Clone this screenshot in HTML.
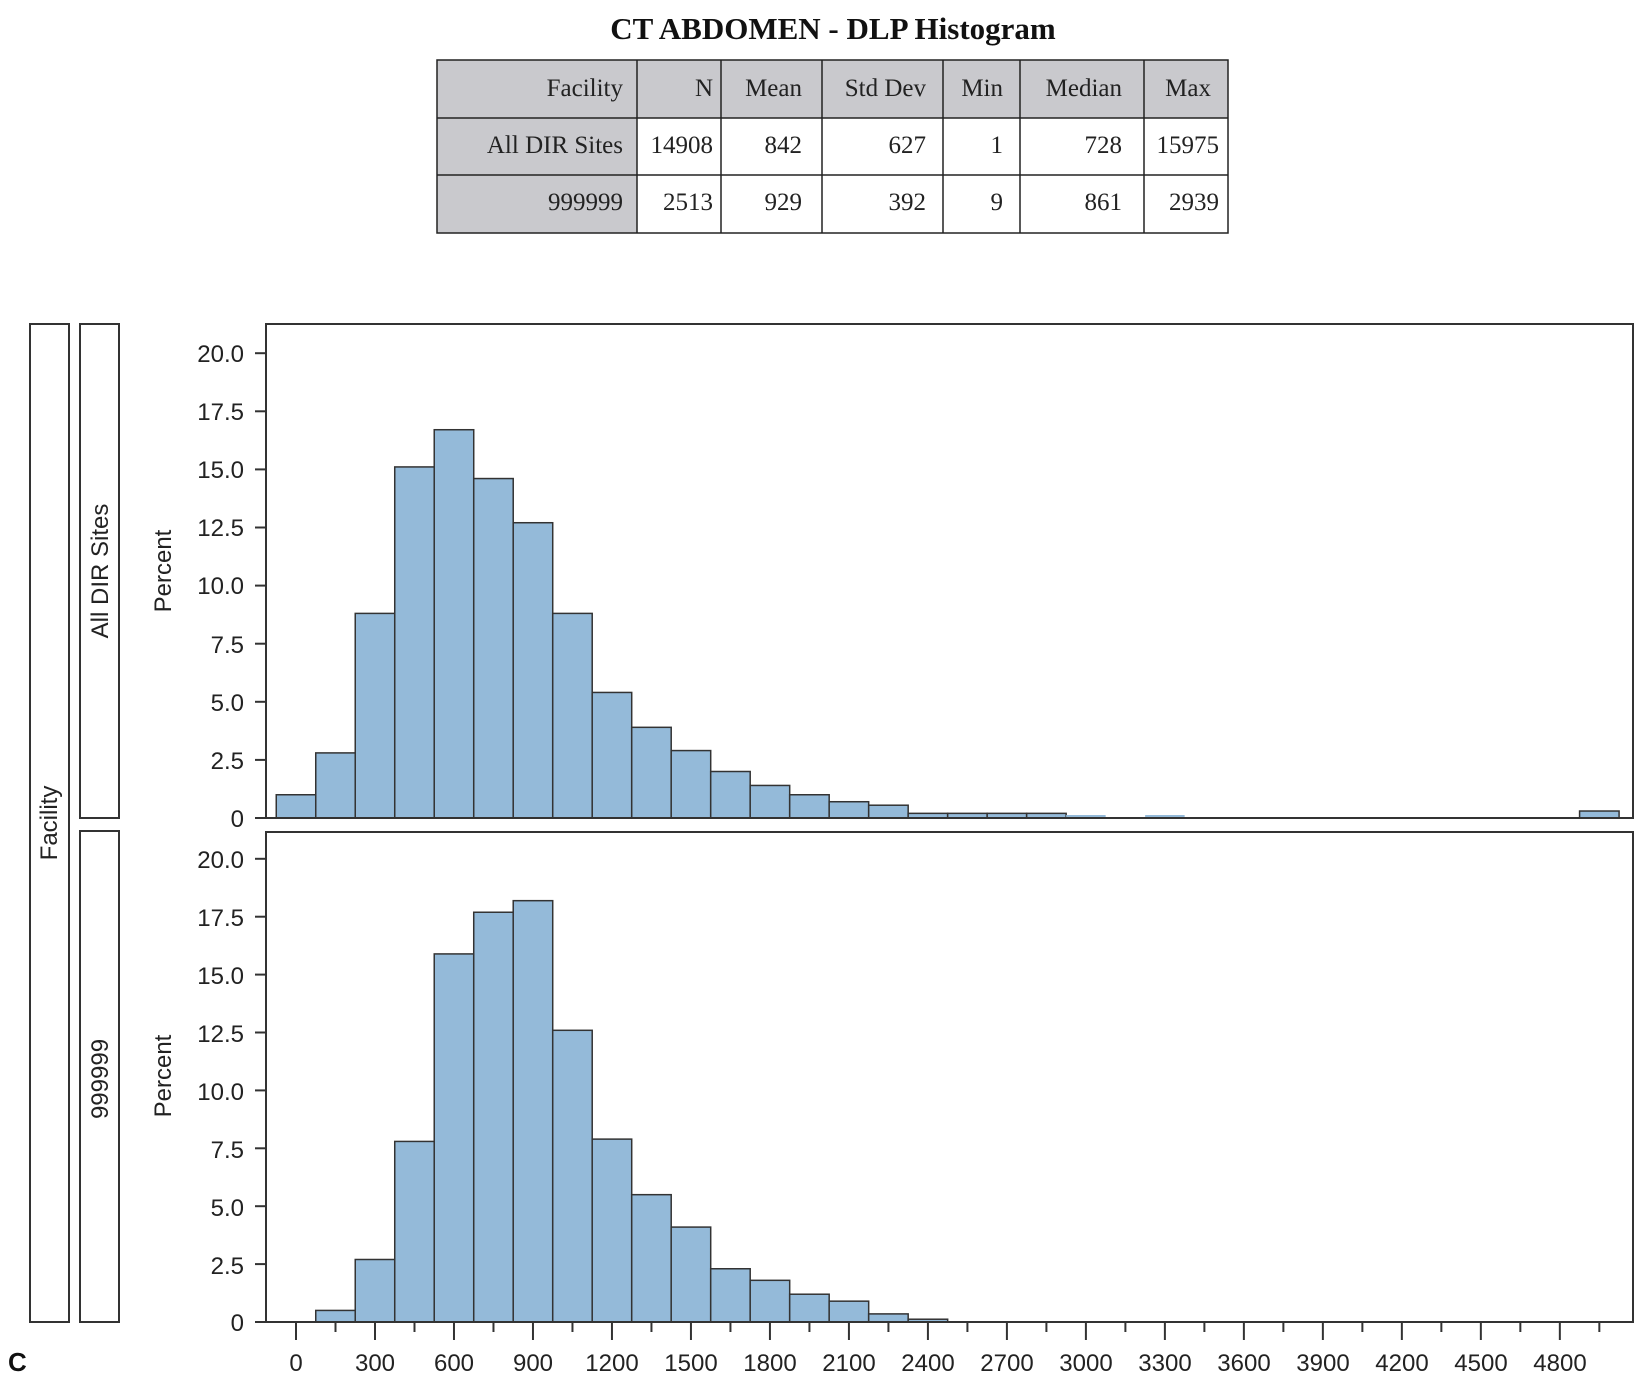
<!DOCTYPE html>
<html><head><meta charset="utf-8"><style>
html,body{margin:0;padding:0;background:#fff;}
svg{display:block;}
.s{font-family:"Liberation Serif",serif;font-size:25px;fill:#222;}
.a{font-family:"Liberation Sans",sans-serif;font-size:24px;fill:#222;}
</style></head><body>
<svg id="g" width="1643" height="1389" xmlns="http://www.w3.org/2000/svg">
<text x="833" y="39" text-anchor="middle" style="font-family:'Liberation Serif',serif;font-weight:bold;font-size:31px;fill:#111">CT ABDOMEN - DLP Histogram</text>
<rect x="437" y="60" width="791" height="58" fill="#c9c9cd"/>
<rect x="437" y="118" width="200" height="115" fill="#c9c9cd"/>
<g stroke="#222" stroke-width="1.5" fill="none">
<rect x="437" y="60" width="791" height="173"/>
<line x1="437" y1="118" x2="1228" y2="118"/><line x1="437" y1="175" x2="1228" y2="175"/>
<line x1="637" y1="60" x2="637" y2="233"/><line x1="721" y1="60" x2="721" y2="233"/>
<line x1="822" y1="60" x2="822" y2="233"/><line x1="943" y1="60" x2="943" y2="233"/>
<line x1="1020" y1="60" x2="1020" y2="233"/><line x1="1144" y1="60" x2="1144" y2="233"/>
</g>
<g class="s" text-anchor="end">
<text x="623" y="96">Facility</text><text x="713" y="96">N</text><text x="802" y="96">Mean</text><text x="926" y="96">Std Dev</text><text x="1003" y="96">Min</text><text x="1122" y="96">Median</text><text x="1211" y="96">Max</text>
<text x="623" y="153">All DIR Sites</text><text x="713" y="153">14908</text><text x="802" y="153">842</text><text x="926" y="153">627</text><text x="1003" y="153">1</text><text x="1122" y="153">728</text><text x="1219" y="153">15975</text>
<text x="623" y="210">999999</text><text x="713" y="210">2513</text><text x="802" y="210">929</text><text x="926" y="210">392</text><text x="1003" y="210">9</text><text x="1122" y="210">861</text><text x="1219" y="210">2939</text>
</g>
<g stroke="#333" stroke-width="2" fill="none">
<rect x="30" y="324" width="39" height="998"/>
<rect x="80" y="324" width="39" height="494"/>
<rect x="80" y="831" width="39" height="491"/>
</g>
<g class="a" text-anchor="middle">
<text transform="translate(57,823) rotate(-90)">Facility</text>
<text transform="translate(108,571) rotate(-90)">All DIR Sites</text>
<text transform="translate(108,1079) rotate(-90)">999999</text>
<text transform="translate(171,571) rotate(-90)">Percent</text>
<text transform="translate(171,1076) rotate(-90)">Percent</text>
</g>
<text x="8" y="1371" style="font-family:'Liberation Sans',sans-serif;font-weight:bold;font-size:26px;fill:#111">C</text>
<g id="bars"></g>
<g stroke="#333" stroke-width="2" fill="none">
<rect x="266" y="324" width="1367" height="494"/>
<rect x="266" y="832" width="1367" height="490"/>
</g>
<g class="a" text-anchor="end">
<text x="244" y="362">20.0</text><text x="244" y="420">17.5</text><text x="244" y="478">15.0</text><text x="244" y="536">12.5</text><text x="244" y="594">10.0</text><text x="244" y="653">7.5</text><text x="244" y="711">5.0</text><text x="244" y="769">2.5</text><text x="244" y="827">0</text>
<text x="244" y="868">20.0</text><text x="244" y="926">17.5</text><text x="244" y="984">15.0</text><text x="244" y="1042">12.5</text><text x="244" y="1100">10.0</text><text x="244" y="1158">7.5</text><text x="244" y="1216">5.0</text><text x="244" y="1274">2.5</text><text x="244" y="1331">0</text>
</g>
<g class="a" text-anchor="middle">
<text x="296" y="1371">0</text><text x="375" y="1371">300</text><text x="454" y="1371">600</text><text x="533" y="1371">900</text><text x="612" y="1371">1200</text><text x="691" y="1371">1500</text><text x="770" y="1371">1800</text><text x="849" y="1371">2100</text><text x="928" y="1371">2400</text><text x="1007" y="1371">2700</text><text x="1086" y="1371">3000</text><text x="1165" y="1371">3300</text><text x="1244" y="1371">3600</text><text x="1323" y="1371">3900</text><text x="1402" y="1371">4200</text><text x="1481" y="1371">4500</text><text x="1560" y="1371">4800</text>
</g>
</svg>
<script>
(function(){
var NS="http://www.w3.org/2000/svg",g=document.getElementById("bars");
function el(t,a){var e=document.createElementNS(NS,t);for(var k in a)e.setAttribute(k,a[k]);g.appendChild(e);}
function X(v){return 296+v*0.2633;}
var topD=[[0,1.0],[150,2.8],[300,8.8],[450,15.1],[600,16.7],[750,14.6],[900,12.7],[1050,8.8],[1200,5.4],[1350,3.9],[1500,2.9],[1650,2.0],[1800,1.4],[1950,1.0],[2100,0.7],[2250,0.55],[2400,0.2],[2550,0.2],[2700,0.2],[2850,0.2],[4950,0.3]];
var bot=[[150,0.5],[300,2.7],[450,7.8],[600,15.9],[750,17.7],[900,18.2],[1050,12.6],[1200,7.9],[1350,5.5],[1500,4.1],[1650,2.3],[1800,1.8],[1950,1.2],[2100,0.9],[2250,0.35],[2400,0.12]];
function draw(d,z,s){d.forEach(function(b){var x=X(b[0]-75),w=150*0.2633,h=b[1]*s;el("rect",{x:x,y:z-h,width:w,height:h,fill:"#94bad9",stroke:"#333","stroke-width":1.5});});}
draw(topD,818,23.25);draw(bot,1322,23.15);
[3000,3300].forEach(function(v){el("rect",{x:X(v-75),y:815,width:39.5,height:3,fill:"#94bad9"});});
for(var i=0;i<=8;i++){var y=818-i*58.1;el("line",{x1:255,x2:266,y1:y,y2:y,stroke:"#333","stroke-width":2});
var y2=1322-i*57.9;el("line",{x1:255,x2:266,y1:y2,y2:y2,stroke:"#333","stroke-width":2});}
for(var v=0;v<=4950;v+=150){var x=X(v),L=(v%300==0)?18:10;el("line",{x1:x,x2:x,y1:1322,y2:1322+L,stroke:"#333","stroke-width":2});}
})();
</script>
</body></html>
